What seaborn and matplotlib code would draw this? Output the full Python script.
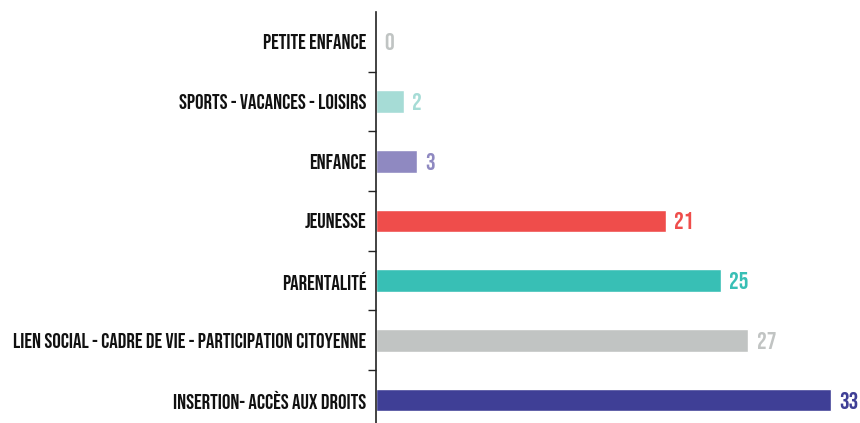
import matplotlib
matplotlib.use("Agg")
import matplotlib.pyplot as plt
import seaborn as sns
import pandas as pd

# donnees
categories = ["PETITE ENFANCE", "SPORTS - VACANCES - LOISIRS", "ENFANCE", "JEUNESSE",
              "PARENTALITÉ", "LIEN SOCIAL - CADRE DE VIE - PARTICIPATION CITOYENNE",
              "INSERTION- ACCÈS AUX DROITS"]
valeurs = [0, 2, 3, 21, 25, 27, 33]
couleurs = ["#c0c4c3", "#a6dcd6", "#8f89c1", "#ef4d4b", "#38bfb5", "#c1c4c3", "#3f3f96"]

df = pd.DataFrame({"categorie": categories, "valeur": valeurs})

sns.set_style("white")
plt.rcParams["font.family"] = ["Bebas Neue", "DejaVu Sans"]

fig = plt.figure(figsize=(8.6, 4.23), dpi=100)
ax = fig.add_axes([376 / 860, 0, 1 - 376 / 860, 411 / 423])

sns.barplot(data=df, x="valeur", y="categorie", hue="categorie", palette=couleurs,
            order=categories, hue_order=categories, legend=False, width=0.38,
            saturation=1, ax=ax)

ax.set_xlim(0, 35.1)
ax.set_ylim(6.385, -0.5)
ax.set_xlabel(""); ax.set_ylabel("")
ax.set_xticks([])
for s in ["top", "right", "bottom"]:
    ax.spines[s].set_visible(False)
ax.spines["left"].set_color("#222222")
ax.spines["left"].set_linewidth(1.2)

# ticks entre categories
ax.set_yticks([i + 0.5 for i in range(len(categories) - 1)], minor=True)
ax.tick_params(axis="y", which="minor", length=5.5, width=1, color="#222222", direction="out", left=True)
ax.tick_params(axis="y", which="major", length=0, pad=7)
for lab in ax.get_yticklabels():
    lab.set_fontsize(15.2)
    lab.set_color("#111111")

# valeurs
for i, (v, c) in enumerate(zip(valeurs, couleurs)):
    ax.text(v + 0.6, i, str(v), color=c, fontsize=17.5,
            va="center", ha="left", clip_on=False)

plt.savefig("out.png", dpi=100)
plt.close()
